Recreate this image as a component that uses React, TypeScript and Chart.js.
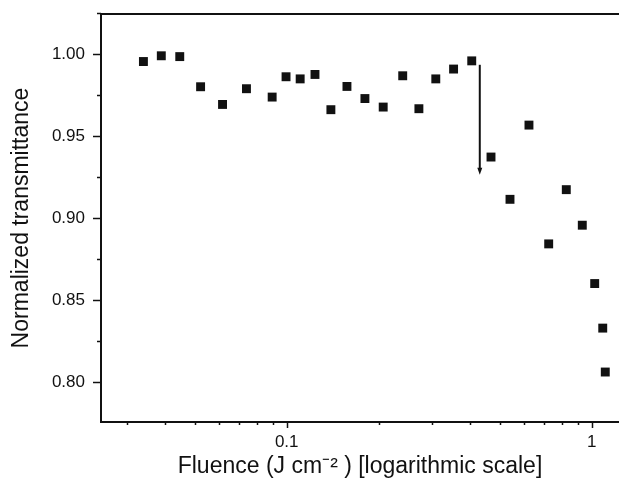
import React, { useEffect, useRef } from 'react';
import { Chart, registerables } from 'chart.js';

Chart.register(...registerables);

// Fluence (J cm^-2) on a logarithmic axis
const fluence = [
  0.0339, 0.0388, 0.0446, 0.0522, 0.0616, 0.0738, 0.0896, 0.0995, 0.1107, 0.1238,
  0.1396, 0.1576, 0.1805, 0.2072, 0.2401, 0.2713, 0.3082, 0.3525, 0.4043, 0.4676,
  0.5397, 0.6228, 0.7228, 0.8255, 0.9315, 1.023, 1.087, 1.108,
];
// Normalized transmittance
const transmittance = [
  0.9955, 0.999, 0.9985, 0.9801, 0.9693, 0.9789, 0.9738, 0.9862, 0.9849, 0.9876,
  0.9661, 0.9803, 0.9729, 0.9677, 0.9868, 0.9667, 0.9849, 0.9909, 0.9959, 0.9372,
  0.9114, 0.9567, 0.8842, 0.9173, 0.8956, 0.86, 0.8328, 0.806,
];

const xTickValues = [0.03, 0.04, 0.05, 0.06, 0.07, 0.08, 0.09, 0.1, 0.2, 0.3, 0.4, 0.5, 0.6, 0.7, 0.8, 0.9, 1];
const xMajorTicks = [0.1, 1];
const xTickLabels = ['0.1', '1'];
const yTickValues = [0.8, 0.825, 0.85, 0.875, 0.9, 0.925, 0.95, 0.975, 1.0, 1.025];
const yMajorTicks = [0.8, 0.85, 0.9, 0.95, 1.0];
const yTickLabels = ['0.80', '0.85', '0.90', '0.95', '1.00'];

// Arrow marking the damage threshold
const arrowX = 0.4296;
const arrowYStart = 0.9935;
const arrowYEnd = 0.9264;

const xTitle = 'Fluence (J cm\u207B\u00B2 ) [logarithmic scale]';
const yTitle = 'Normalized transmittance';

const INK = '#111111';
const FONT = "'Liberation Sans', Arial, sans-serif";

const isIn = (arr: number[], v: number) => arr.some((a) => Math.abs(a - v) < 1e-9);

const decorPlugin = {
  id: 'decor',
  afterDraw(chart: any) {
    const { ctx, chartArea, scales } = chart;
    const xs = scales.x;
    const ys = scales.y;
    ctx.save();
    ctx.strokeStyle = INK;
    ctx.lineWidth = 1.5;
    // bottom ticks (outside)
    xTickValues.forEach((v) => {
      const px = Math.round(xs.getPixelForValue(v)) + 0.5;
      const len = isIn(xMajorTicks, v) ? 6 : 3;
      ctx.beginPath();
      ctx.moveTo(px, chartArea.bottom);
      ctx.lineTo(px, chartArea.bottom + len);
      ctx.stroke();
    });
    // left ticks (outside)
    yTickValues.forEach((v) => {
      const py = Math.round(ys.getPixelForValue(v)) + 0.5;
      if (py < chartArea.top - 1) return;
      const len = isIn(yMajorTicks, v) ? 8 : 4;
      ctx.beginPath();
      ctx.moveTo(chartArea.left, py);
      ctx.lineTo(chartArea.left - len, py);
      ctx.stroke();
    });
    // top frame
    ctx.lineWidth = 2;
    ctx.beginPath();
    ctx.moveTo(chartArea.left, chartArea.top);
    ctx.lineTo(chartArea.right, chartArea.top);
    ctx.stroke();
    // arrow
    const ax = xs.getPixelForValue(arrowX);
    const ay1 = ys.getPixelForValue(arrowYStart);
    const ay2 = ys.getPixelForValue(arrowYEnd);
    ctx.lineWidth = 2;
    ctx.beginPath();
    ctx.moveTo(ax, ay1);
    ctx.lineTo(ax, ay2 - 6);
    ctx.stroke();
    ctx.fillStyle = INK;
    ctx.beginPath();
    ctx.moveTo(ax - 2.5, ay2 - 7);
    ctx.lineTo(ax + 2.5, ay2 - 7);
    ctx.lineTo(ax, ay2);
    ctx.closePath();
    ctx.fill();
    ctx.restore();
  },
};

export default function App() {
  const canvasRef = useRef<HTMLCanvasElement | null>(null);

  useEffect(() => {
    if (!canvasRef.current) return;
    const chart = new Chart(canvasRef.current, {
      type: 'scatter',
      data: {
        datasets: [
          {
            data: fluence.map((f, i) => ({ x: f, y: transmittance[i] })),
            pointStyle: 'rect',
            radius: 6.3,
            borderWidth: 0,
            backgroundColor: INK,
            showLine: false,
          },
        ],
      },
      options: {
        animation: false,
        responsive: true,
        maintainAspectRatio: false,
        layout: { autoPadding: false, padding: { top: 14, left: 0, right: 0, bottom: 0 } },
        plugins: { legend: { display: false }, tooltip: { enabled: false } },
        scales: {
          x: {
            type: 'logarithmic',
            position: 'bottom',
            min: 0.02461,
            max: 1.229,
            afterBuildTicks: (scale: any) => {
              scale.ticks = xTickValues.map((v) => ({ value: v, major: isIn(xMajorTicks, v) }));
            },
            afterFit: (scale: any) => {
              scale.height = 66;
              scale.paddingLeft = 0;
              scale.paddingRight = 0;
              scale.paddingTop = 0;
              scale.paddingBottom = 0;
            },
            grid: { display: false, drawTicks: false },
            border: { display: true, color: INK, width: 2 },
            ticks: {
              autoSkip: false,
              maxRotation: 0,
              minRotation: 0,
              padding: 10,
              color: INK,
              font: { family: FONT, size: 17 },
              callback: (v: any) => {
                const idx = xMajorTicks.findIndex((m) => Math.abs(m - Number(v)) < 1e-9);
                return idx >= 0 ? xTickLabels[idx] : '';
              },
            },
            title: {
              display: true,
              text: xTitle,
              color: INK,
              font: { family: FONT, size: 23 },
              padding: { top: 0, bottom: 8 },
            },
          },
          y: {
            type: 'linear',
            min: 0.7755,
            max: 1.0245,
            afterBuildTicks: (scale: any) => {
              scale.ticks = yTickValues.map((v) => ({ value: v }));
            },
            afterFit: (scale: any) => {
              scale.width = 101;
              scale.paddingLeft = 0;
              scale.paddingRight = 0;
              scale.paddingTop = 0;
              scale.paddingBottom = 0;
            },
            grid: { display: false, drawTicks: false },
            border: { display: true, color: INK, width: 2 },
            ticks: {
              autoSkip: false,
              padding: 16,
              color: INK,
              font: { family: FONT, size: 17 },
              callback: (v: any) => {
                const idx = yMajorTicks.findIndex((m) => Math.abs(m - Number(v)) < 1e-9);
                return idx >= 0 ? yTickLabels[idx] : '';
              },
            },
            title: {
              display: true,
              text: yTitle,
              color: INK,
              font: { family: FONT, size: 23 },
              padding: { top: 8, bottom: 0 },
            },
          },
        },
      },
      plugins: [decorPlugin],
    } as any);
    return () => chart.destroy();
  }, []);

  return (
    <div style={{ position: 'absolute', left: 0, top: 0, width: 619, height: 488, background: '#fff' }}>
      <canvas ref={canvasRef} />
    </div>
  );
}
